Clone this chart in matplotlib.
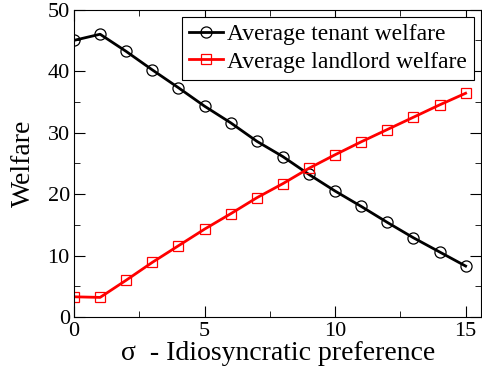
import matplotlib
matplotlib.use('Agg')
import matplotlib.pyplot as plt
from matplotlib.ticker import MultipleLocator

plt.rcParams['font.family'] = ['Liberation Serif', 'DejaVu Serif']

sigma = list(range(16))
tenant = [45.0, 46.0, 43.2, 40.2, 37.3, 34.3, 31.6, 28.6, 26.1, 23.2,
          20.5, 18.0, 15.4, 12.9, 10.6, 8.3]
landlord = [3.3, 3.2, 6.0, 8.9, 11.6, 14.3, 16.8, 19.4, 21.7, 24.2,
            26.4, 28.5, 30.5, 32.5, 34.5, 36.4]

fig = plt.figure(figsize=(4.82, 3.70), dpi=100)
ax = fig.add_axes([0.1535, 0.143, 0.845, 0.831])

ax.plot(sigma, tenant, color='black', lw=2, marker='o', ms=8,
        mfc='none', mec='black', mew=0.9, label='Average tenant welfare')
ax.plot(sigma, landlord, color='red', lw=2, marker='s', ms=7,
        mfc='none', mec='red', mew=0.9, label='Average landlord welfare')

ax.set_xlim(0, 15.6)
ax.set_ylim(0, 50)
ax.xaxis.set_major_locator(MultipleLocator(5))
ax.xaxis.set_minor_locator(MultipleLocator(2.5))
ax.yaxis.set_major_locator(MultipleLocator(10))
ax.yaxis.set_minor_locator(MultipleLocator(5))
ax.tick_params(which='both', direction='in', top=True, right=True, labelsize=16)
ax.tick_params(which='major', length=8)
ax.tick_params(axis='x', which='major', pad=3.5)
ax.tick_params(axis='y', which='major', pad=3)
ax.tick_params(which='minor', length=4)

ax.set_xlabel('\u03c3  - Idiosyncratic preference', fontsize=20, labelpad=0)
ax.set_ylabel('Welfare', fontsize=20, labelpad=8)

leg = ax.legend(loc='upper right', fontsize=17, fancybox=False, framealpha=1,
                edgecolor='black', handlelength=1.4, handletextpad=0.2,
                borderpad=0.3, labelspacing=0.25, borderaxespad=0.3)
leg.get_frame().set_linewidth(0.8)

fig.savefig('out.png', dpi=100)
